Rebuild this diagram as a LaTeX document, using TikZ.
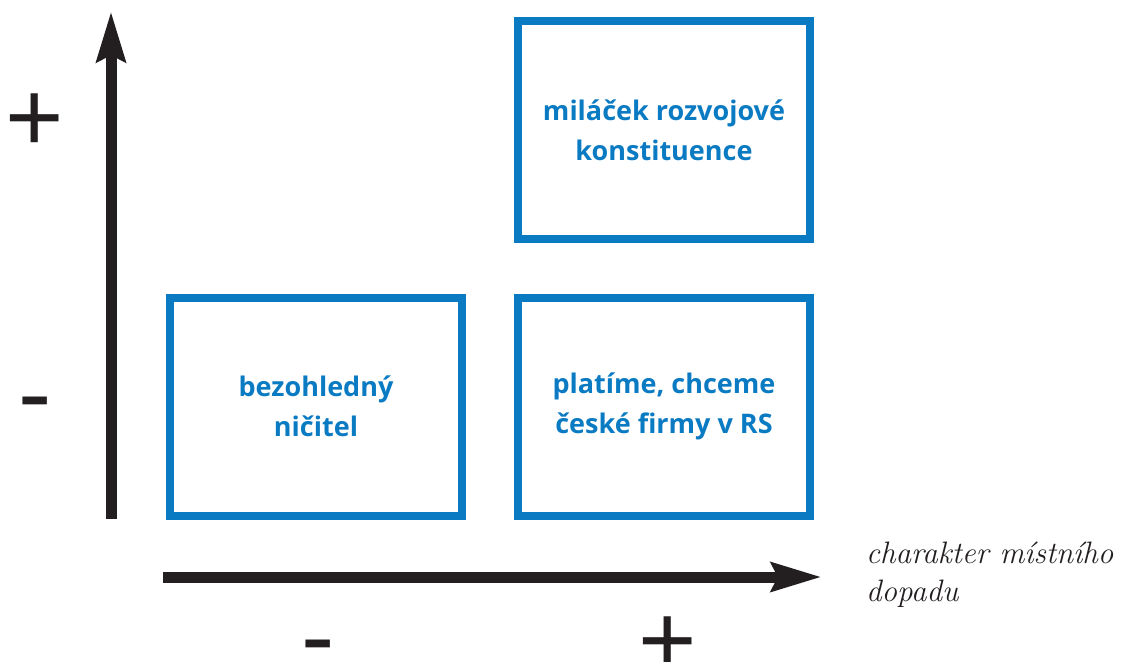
\documentclass[tikz,border=0pt]{standalone}
\usepackage{fontspec}
\setmainfont{Latin Modern Roman}
\newfontfamily\boxfont{Open Sans}
\newfontfamily\signfont{Liberation Sans}
\usetikzlibrary{arrows.meta}
\definecolor{boxblue}{HTML}{0A7BC2}
\definecolor{axisblack}{HTML}{231F20}
\tikzset{
  quadbox/.style={draw=boxblue, line width=8pt, minimum width=292pt, minimum height=218pt, inner sep=0pt,
    align=center, text=boxblue, font=\boxfont\bfseries\fontsize{27}{40}\selectfont},
  axisline/.style={draw=axisblack, line width=11pt, -{Stealth[length=50pt, width=28pt, inset=6pt]}},
  signlabel/.style={text=axisblack, inner sep=0pt, font=\signfont\fontsize{100}{100}\selectfont},
  axislabel/.style={text=axisblack, inner sep=0pt, align=left, anchor=base west, font=\itshape\fontsize{31}{38}\selectfont}
}
\begin{document}
\begin{tikzpicture}[x=1pt, y=-1pt]
\useasboundingbox (0,0) rectangle (1126,661);
\node[quadbox] (tr) at (664,130) {miláček rozvojové\\konstituence};
\node[quadbox] (bl) at (316,406.5) {bezohledný\\ničitel};
\node[quadbox] (br) at (664,406.5) {platíme, chceme\\české firmy v RS};
\coordinate (vbot) at (111,519);
\coordinate (vtop) at (111,11);
\coordinate (hleft) at (163,577);
\coordinate (hright) at (822,577);
\draw[axisline] (vbot) -- (vtop);
\draw[axisline] (hleft) -- (hright);
\node[signlabel] (yplus) at (35,123) {+};
\node[signlabel] (yminus) at (35,412) {-};
\node[signlabel] (xminus) at (318,655) {-};
\node[signlabel] (xplus) at (668,646) {+};
\node[axislabel] (xlab) at (866,601) {charakter místního\\dopadu};
\end{tikzpicture}
\end{document}
